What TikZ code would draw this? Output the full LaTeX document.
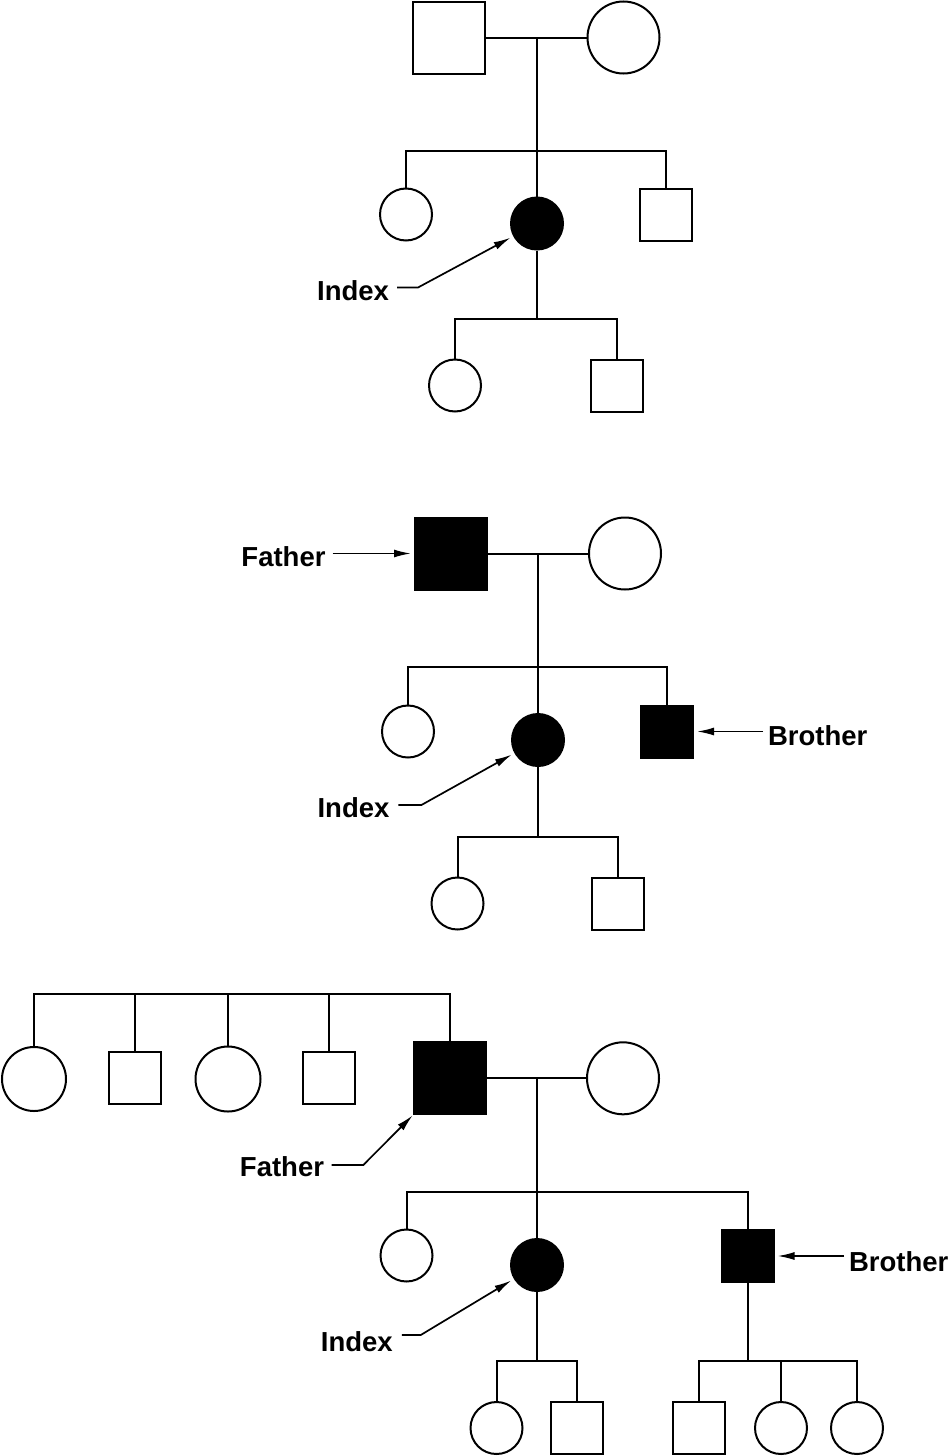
\documentclass[tikz,border=0pt]{standalone}
\usepackage{fontspec}
\setmainfont{Liberation Sans}
\usetikzlibrary{arrows.meta}
\begin{document}
\begin{tikzpicture}[x=1pt,y=-1pt,
  line width=2pt,
  male/.style={draw, rectangle, inner sep=0pt, minimum size=52pt},
  female/.style={draw, circle, inner sep=0pt, minimum size=52pt},
  big/.style={minimum size=72pt},
  aff/.style={fill=black},
  lab/.style={inner sep=0pt, font=\fontsize{27.5}{30}\selectfont\bfseries},
  arr/.style={-{Latex[length=17pt,width=8pt]}, line width=1.7pt, shorten >=3pt}]
\fill[white] (0,0) rectangle (952,1456);
\useasboundingbox (0,0) rectangle (952,1456);

% ---------------- Pedigree 1 ----------------
\node[male,big] (f1) at (449,37.5) {};
\node[female,big] (m1) at (623.5,37.5) {};
\coordinate (mm1) at (537,37.5);
\coordinate (sb1) at (537,151);
\node[female] (s1) at (406,214.5) {};
\node[female,aff] (i1) at (537,223.5) {};
\node[male] (b1) at (666,214.5) {};
\coordinate (cb1) at (537,319);
\node[female] (c11) at (455,385.5) {};
\node[male] (c12) at (617,385.5) {};
\draw (f1) -- (m1);
\draw (mm1) -- (i1.north);
\draw (s1.north) -- (s1.north |- sb1) -- (b1.north |- sb1) -- (b1.north);
\draw (i1.south) -- (cb1);
\draw (c11.north) -- (c11.north |- cb1) -- (c12.north |- cb1) -- (c12.north);
\node[lab, anchor=east] (L1) at (390,290.5) {Index};
\draw[arr] ([xshift=7pt,yshift=3pt]L1.east) -- ++(21,0) -- (i1);

% ---------------- Pedigree 2 ----------------
\node[male,big,aff] (f2) at (451,553.5) {};
\node[female,big] (m2) at (625,553.5) {};
\coordinate (mm2) at (538,553.5);
\coordinate (sb2) at (538,667);
\node[female] (s2) at (408,731.5) {};
\node[female,aff] (i2) at (538,740) {};
\node[male,aff] (b2) at (667,731.5) {};
\coordinate (cb2) at (538,837);
\node[female] (c21) at (457.5,903.5) {};
\node[male] (c22) at (618,903.5) {};
\draw (f2) -- (m2);
\draw (mm2) -- (i2.north);
\draw (s2.north) -- (s2.north |- sb2) -- (b2.north |- sb2) -- (b2.north);
\draw (i2.south) -- (cb2);
\draw (c21.north) -- (c21.north |- cb2) -- (c22.north |- cb2) -- (c22.north);
\node[lab, anchor=east] (L2) at (390.4,808) {Index};
\draw[arr] ([xshift=8pt,yshift=3pt]L2.east) -- ++(23,0) -- (i2);
\node[lab, anchor=east] (Lf2) at (326.5,556.3) {Father};
\draw[arr, shorten <=6pt] (Lf2.east |- f2.west) -- (f2.west);
\node[lab, anchor=west] (Lb2) at (767,736) {Brother};
\draw[arr, shorten <=4pt] (Lb2.west |- b2.east) -- (b2.east);

% ---------------- Pedigree 3 ----------------
\coordinate (ub3) at (449.5,994.3);
\node[female,minimum size=64pt] (a1) at (34,1079) {};
\node[male] (a2) at (134.5,1078.3) {};
\node[female,minimum size=65pt] (a3) at (228,1079) {};
\node[male] (a4) at (328.5,1078.3) {};
\node[male,big,aff] (f3) at (449.5,1078.3) {};
\node[female,big] (m3) at (623,1078.3) {};
\draw (a1.north) -- (a1.north |- ub3) -- (f3.north |- ub3) -- (f3.north);
\draw (a2.north) -- (a2.north |- ub3);
\draw (a3.north) -- (a3.north |- ub3);
\draw (a4.north) -- (a4.north |- ub3);
\coordinate (mm3) at (537,1078.3);
\coordinate (sb3) at (537,1191.7);
\node[female] (s3) at (406.5,1255.5) {};
\node[female,aff] (i3) at (537,1265) {};
\node[male,aff] (b3) at (747.5,1256) {};
\coordinate (cb3) at (537,1361);
\coordinate (db3) at (747.5,1361);
\node[female] (c31) at (496.5,1428) {};
\node[male] (c32) at (577,1428) {};
\node[male] (d31) at (699,1428) {};
\node[female] (d32) at (781,1428) {};
\node[female] (d33) at (857,1428) {};
\draw (f3) -- (m3);
\draw (mm3) -- (i3.north);
\draw (s3.north) -- (s3.north |- sb3) -- (b3.north |- sb3) -- (b3.north);
\draw (i3.south) -- (cb3);
\draw (c31.north) -- (c31.north |- cb3) -- (c32.north |- cb3) -- (c32.north);
\draw (b3.south) -- (db3);
\draw (d31.north) -- (d31.north |- db3) -- (d33.north |- db3) -- (d33.north);
\draw (d32.north) -- (d32.north |- db3);
\node[lab, anchor=east] (L3) at (393.75,1341.7) {Index};
\draw[arr] ([xshift=8pt,yshift=6.7pt]L3.east) -- ++(19,0) -- (i3);
\node[lab, anchor=east] (Lf3) at (325,1166.7) {Father};
\draw[arr, shorten >=0pt] ([xshift=6.7pt,yshift=1.7pt]Lf3.east) -- ++(31.6,0) -- (f3);
\node[lab, anchor=west] (Lb3) at (848,1261.4) {Brother};
\draw[arr, shorten <=4pt] (Lb3.west |- b3.east) -- (b3.east);
\end{tikzpicture}
\end{document}
